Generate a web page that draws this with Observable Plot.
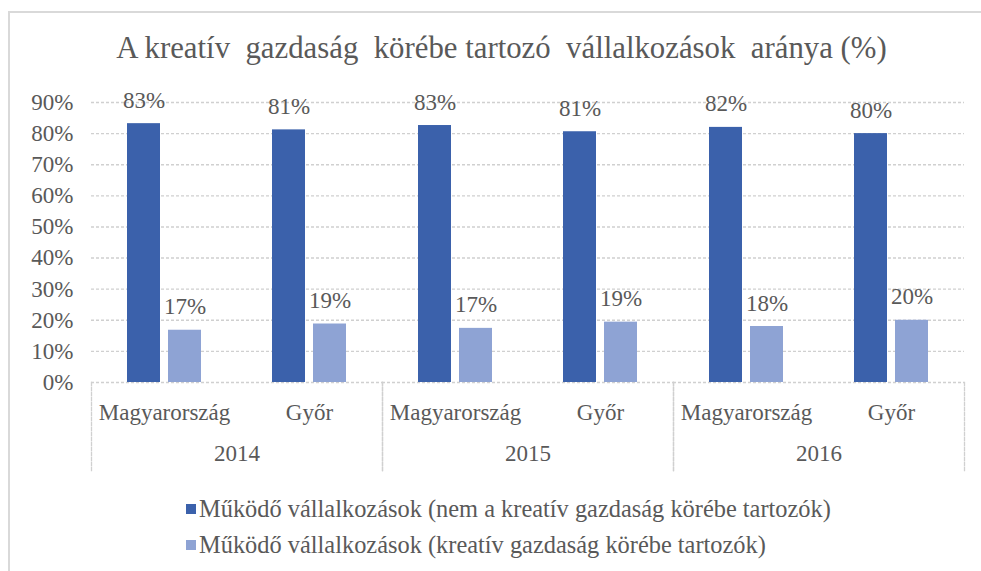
<!DOCTYPE html>
<html>
<head>
<meta charset="utf-8">
<script src="https://cdn.jsdelivr.net/npm/d3@7"></script>
<script src="https://cdn.jsdelivr.net/npm/@observablehq/plot@0.6"></script>
<style>
  html, body { margin: 0; padding: 0; background: #fff; }
  #wrap { position: relative; width: 981px; height: 571px; overflow: hidden; background: #fff;
          font-family: "Liberation Serif", "Times New Roman", serif; color: #595959; }
  #border { position: absolute; left: 8px; top: 11px; width: 1000px; height: 600px;
            border-top: 2px solid #d9d9d9; border-left: 2px solid #d9d9d9; }
  #title { position: absolute; left: 0; width: 1003px; top: 30px; text-align: center;
           font-size: 30.8px; white-space: pre; line-height: 36px; color: #595959; }
  #chart { position: absolute; left: 0; top: 80px; }
  #chart svg text { font-family: "Liberation Serif", "Times New Roman", serif !important; font-variant-numeric: normal !important; }
  #legend { position: absolute; left: 186px; top: 491px; font-size: 24.4px; color: #595959; }
  .item { display: flex; align-items: center; height: 36px; white-space: pre; }
  .sw { width: 10px; height: 10px; margin-right: 3px; }
</style>
</head>
<body>
<div id="wrap">
  <div id="border"></div>
  <div id="title">A kreatív  gazdaság  körébe tartozó  vállalkozások  aránya (%)</div>
  <div id="chart"></div>
  <div id="legend"></div>
</div>
<script>
const years = ["2014", "2015", "2016"];
const regions = ["Magyarország", "Győr"];
const seriesNames = [
  "Működő vállalkozások (nem a kreatív gazdaság körébe tartozók)",
  "Működő vállalkozások (kreatív gazdaság körébe tartozók)"
];
const seriesColors = ["#3b61ab", "#8ea3d4"];
// values in order: 2014 Magyarország, 2014 Győr, 2015 Magyarország, 2015 Győr, 2016 Magyarország, 2016 Győr
const nonCreative = [83.2, 81.2, 82.6, 80.6, 82.0, 80.0];
const creative = [16.8, 18.8, 17.4, 19.4, 18.0, 20.0];
const yTicks = [0, 10, 20, 30, 40, 50, 60, 70, 80, 90];

const rows = [];
years.forEach((yr, i) => regions.forEach((rg, j) => {
  const k = i * regions.length + j;
  rows.push({year: yr, region: rg, series: seriesNames[0], value: nonCreative[k]});
  rows.push({year: yr, region: rg, series: seriesNames[1], value: creative[k]});
}));
const s0 = rows.filter(d => d.series === seriesNames[0]);
const s1 = rows.filter(d => d.series === seriesNames[1]);

const serif = "Liberation Serif";
const gridColor = "#d0d0d0";
const fmt = d => Math.round(d.value) + "%";

const chart = Plot.plot({
  width: 981,
  height: 400,
  marginTop: 22,
  marginBottom: 98,
  marginLeft: 90,
  marginRight: 16,
  style: {fontFamily: serif, fontSize: "23px", color: "#595959", background: "transparent", overflow: "visible"},
  fx: {domain: years, padding: 0, label: null},
  x: {domain: regions, paddingInner: 0.492, paddingOuter: 0.246, label: null},
  y: {domain: [0, 90], label: null},
  marks: [
    Plot.gridY({ticks: yTicks, stroke: gridColor, strokeOpacity: 1, strokeWidth: 1.4, strokeDasharray: "3,2"}),
    Plot.frame({anchor: "left", insetTop: 280, insetBottom: -88, stroke: gridColor, strokeWidth: 1.3, strokeDasharray: "3,2"}),
    Plot.frame({anchor: "right", insetTop: 280, insetBottom: -88, stroke: gridColor, strokeWidth: 1.3, strokeDasharray: "3,2"}),
    Plot.axisY({ticks: yTicks, tickFormat: d => d + "%", tickSize: 0, tickPadding: 18, label: null, fill: "#595959", fontFamily: serif, fontVariant: "normal"}),
    Plot.axisX({tickSize: 0, tickPadding: 21, label: null, fill: "#595959", fontFamily: serif}),
    Plot.axisFx({anchor: "bottom", tickSize: 0, tickPadding: 62, label: null, fill: "#595959", fontFamily: serif}),
    Plot.barY(s0, {fx: "year", x: "region", y: "value", fill: seriesColors[0], insetRight: 41}),
    Plot.barY(s1, {fx: "year", x: "region", y: "value", fill: seriesColors[1], insetLeft: 41}),
    Plot.text(s0, {fx: "year", x: "region", y: "value", text: fmt, dx: -20.5, dy: -16, lineAnchor: "bottom", fill: "#595959", fontFamily: serif}),
    Plot.text(s1, {fx: "year", x: "region", y: "value", text: fmt, dx: 20.5, dy: -16, lineAnchor: "bottom", fill: "#595959", fontFamily: serif})
  ]
});
document.getElementById("chart").appendChild(chart);

const legend = document.getElementById("legend");
seriesNames.forEach((name, i) => {
  const item = document.createElement("div");
  item.className = "item";
  const sw = document.createElement("span");
  sw.className = "sw";
  sw.style.background = seriesColors[i];
  const t = document.createElement("span");
  t.textContent = name;
  item.appendChild(sw);
  item.appendChild(t);
  legend.appendChild(item);
});
</script>
</body>
</html>
